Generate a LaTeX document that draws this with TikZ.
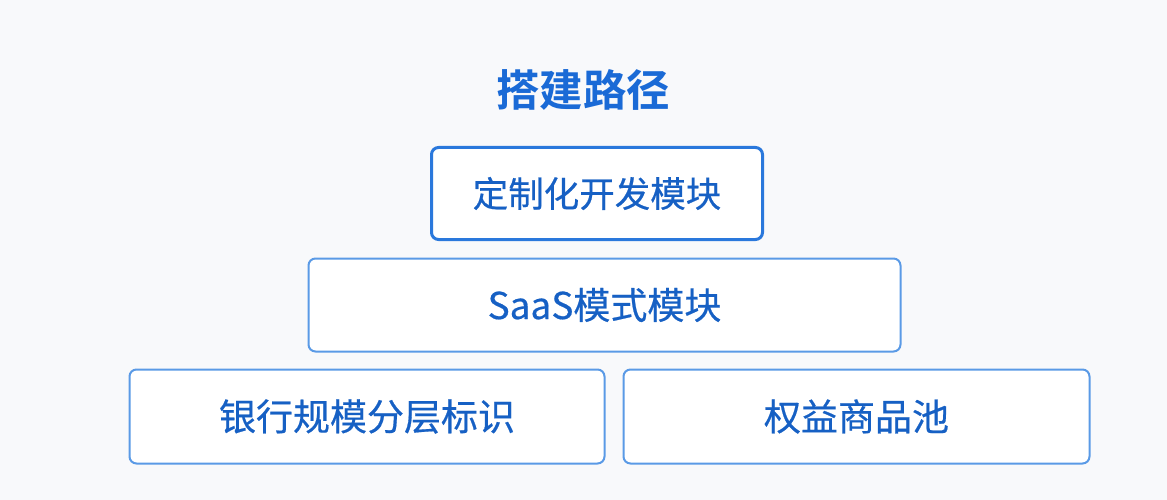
\documentclass[tikz,border=0pt]{standalone}
\usepackage{fontspec}
\setmainfont{Noto Sans CJK SC}
\newfontfamily\cjkbold{Noto Sans CJK SC}[BoldFont={* Bold}]
\newfontfamily\cjkmed{Noto Sans CJK SC}[FakeBold=0.5]
\definecolor{titleblue}{HTML}{1A6AD6}
\definecolor{textblue}{HTML}{1660C4}
\definecolor{topedge}{HTML}{2A78DC}
\definecolor{boxedge}{HTML}{5A9AE6}
\definecolor{paper}{HTML}{F8F9FB}
\tikzset{
	modbox/.style={draw=boxedge, line width=2pt, rounded corners=7pt, fill=white, text=textblue, font=\cjkmed\fontsize{37}{42}\selectfont},
	topbox/.style={modbox, draw=topedge, line width=3pt, font=\cjkmed\fontsize{35.5}{42}\selectfont},
}

\begin{document}
\begin{tikzpicture}[x=1pt, y=-1pt]
\fill[paper] (0,0) rectangle (1167,500);
\useasboundingbox (0,0) rectangle (1167,500);
\node[text=titleblue, font=\cjkbold\bfseries\fontsize{43.5}{48}\selectfont] (title) at (583,90) {搭建路径};
\node[topbox, minimum width=331pt, minimum height=92pt] (custom) at (597,193.5) {定制化开发模块};
\node[modbox, minimum width=592pt, minimum height=93pt] (saas) at (604.5,305) {SaaS模式模块};
\node[modbox, minimum width=475pt, minimum height=94pt] (bank) at (367,416.5) {银行规模分层标识};
\node[modbox, minimum width=466pt, minimum height=94pt] (pool) at (856.5,416.5) {权益商品池};
\end{tikzpicture}
\end{document}
